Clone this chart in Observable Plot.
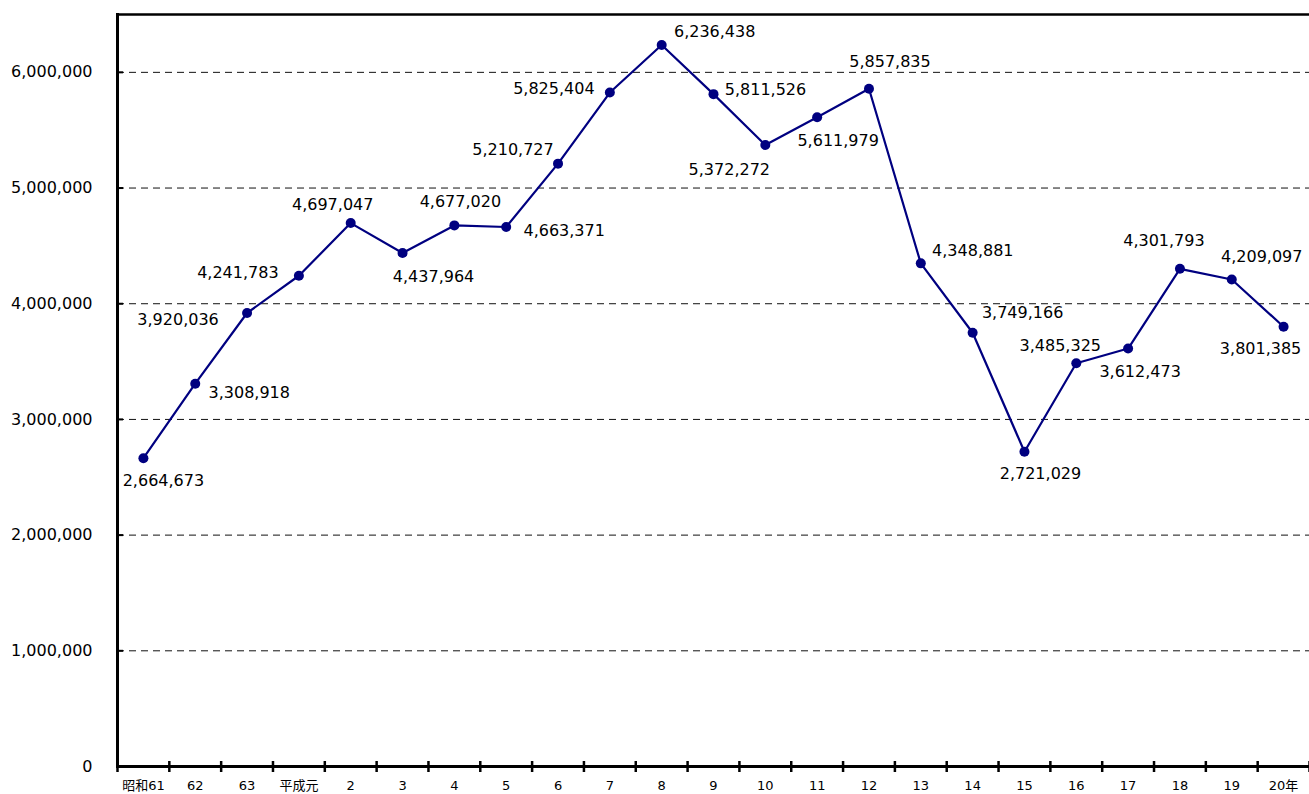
<!DOCTYPE html>
<html>
<head>
<meta charset="utf-8">
<script src="https://cdn.jsdelivr.net/npm/d3@7"></script>
<script src="https://cdn.jsdelivr.net/npm/@observablehq/plot@0.6"></script>
<style>
  html, body { margin: 0; padding: 0; background: #fff; }
  #chart svg { display: block; }
</style>
</head>
<body>
<div id="chart"></div>
<script>
// ---- data ----
const categories = ["昭和61","62","63","平成元","2","3","4","5","6","7","8","9","10","11","12","13","14","15","16","17","18","19","20年"];
const values = [2664673, 3308918, 3920036, 4241783, 4697047, 4437964, 4677020, 4663371, 5210727, 5825404, 6236438, 5811526, 5372272, 5611979, 5857835, 4348881, 3749166, 2721029, 3485325, 3612473, 4301793, 4209097, 3801385];
const yTicks = [0, 1000000, 2000000, 3000000, 4000000, 5000000, 6000000];

// label placement offsets (pixels, relative to each point)
const labelOffsets = [
  [20, 23], [54, 9], [-69, 7], [-61, -3], [-18, -18], [31, 24], [6, -24], [58, 4],
  [-45, -14], [-56, -4], [53, -13], [52, -4], [-36, 25], [21, 24], [21, -27], [52, -12],
  [50, -20], [16, 22], [-16, -17], [12, 23], [-16, -28], [30, -23], [-23, 22]
];

const data = categories.map((c, i) => ({i, cat: c, value: values[i]}));
const fmt = d3.format(",");
const bounds = d3.range(categories.length + 1).map(i => i - 0.5);
const navy = "#000080";

const labelMarks = data.map((d, k) => Plot.text([d], {
  x: "i", y: "value", text: dd => fmt(dd.value),
  dx: labelOffsets[k][0], dy: labelOffsets[k][1],
  textAnchor: "middle", lineAnchor: "middle",
  fontSize: 16, fill: "#000"
}));

const chart = Plot.plot({
  width: 1309,
  height: 794,
  marginLeft: 117,
  marginRight: 0,
  marginTop: 14,
  marginBottom: 28,
  style: {fontFamily: "'DejaVu Sans', 'Noto Sans CJK JP', sans-serif", background: "#fff", color: "#000"},
  x: {type: "linear", domain: [-0.5, categories.length - 0.5]},
  y: {domain: [0, 6500000]},
  marks: [
    Plot.gridY(yTicks.filter(t => t > 0), {stroke: "#111", strokeOpacity: 1, strokeWidth: 1, strokeDasharray: "7,5"}),
    Plot.axisY(yTicks, {tickSize: 0, tickPadding: 25, tickFormat: fmt, fontSize: 16, label: null}),
    Plot.axisY(yTicks.filter(t => t > 0), {tickSize: 6, dx: 6, text: null, strokeWidth: 2, label: null}),
    Plot.axisX(bounds, {tickSize: 11, dy: -5, text: null, strokeWidth: 2.5, label: null}),
    Plot.axisX(d3.range(categories.length), {tickSize: 0, tickPadding: 14, tickFormat: i => categories[i], fontSize: 13, label: null}),
    Plot.frame({anchor: "left", strokeWidth: 3}),
    Plot.frame({anchor: "bottom", strokeWidth: 3}),
    Plot.frame({anchor: "top", strokeWidth: 2.5}),
    Plot.line(data, {x: "i", y: "value", stroke: navy, strokeWidth: 2.2}),
    Plot.dot(data, {x: "i", y: "value", r: 5, fill: navy, stroke: "none"}),
    ...labelMarks
  ]
});

document.getElementById("chart").appendChild(chart);
</script>
</body>
</html>
